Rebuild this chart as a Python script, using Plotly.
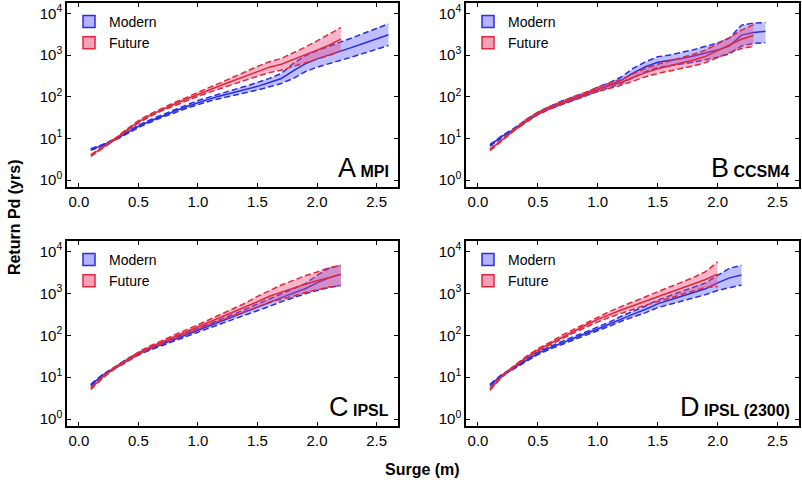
import plotly.graph_objects as go

# ---------------- data (return period, years) ----------------
# Panel A  MPI
a_mod_x = [0.1,0.2,0.3,0.4,0.5,0.6,0.7,0.8,0.9,1.0,1.1,1.2,1.3,1.4,1.5,1.6,1.7,1.8,1.9,2.0,2.1,2.2,2.3,2.4,2.5,2.6]
a_mod_mid = [5.4,6.9,9.3,13.5,19.5,26.3,34.7,44.7,57.5,72.4,89.1,107,126,148,178,219,275,417,617,813,1000,1230,1550,1950,2450,3090]
a_mod_lo = [5.2,6.6,8.9,12.9,18.2,24.5,32.4,40.8,52.5,64.5,79.4,93.2,107,123,145,174,209,275,398,513,617,741,913,1122,1378,1698]
a_mod_hi = [5.7,7.2,9.7,14.1,20.9,28.2,37.2,49.0,63.0,81.2,100,123,148,178,219,276,362,631,956,1289,1622,2042,2632,3389,4356,5624]

a_fut_x = [0.1,0.2,0.3,0.4,0.5,0.6,0.7,0.8,0.9,1.0,1.1,1.2,1.3,1.4,1.5,1.6,1.7,1.8,1.9,2.0,2.1,2.2]
a_fut_mid = [3.9,6.0,9.5,15.8,25.1,36.3,50.1,66.1,87.1,115,148,191,245,316,407,513,603,776,1000,1318,1738,2399]
a_fut_lo = [3.7,5.7,9.1,15.1,23.4,33.9,46.7,60.3,79.5,103,129,163,204,251,309,380,437,537,646,794,977,1259]
a_fut_hi = [4.1,6.3,9.9,16.5,26.9,38.9,53.7,72.4,95.5,129,170,224,294,398,536,692,832,1121,1549,2188,3090,4570]

# Panel B  CCSM4
b_mod_x = [0.1,0.2,0.3,0.4,0.5,0.6,0.7,0.8,0.9,1.0,1.1,1.2,1.3,1.4,1.5,1.6,1.7,1.8,1.9,2.0,2.1,2.2,2.3,2.4]
b_mod_mid = [6.8,11.2,16.6,26.3,39.8,55,72,91,115,151,191,251,380,525,676,741,832,955,1122,1318,1660,3020,3467,3715]
b_mod_lo = [6.5,10.7,15.8,24.5,37.2,51,66,83,105,135,166,209,295,398,501,550,603,676,776,891,1072,1660,1905,1995]
b_mod_hi = [7.1,11.7,17.4,28.2,42.7,59,79,100,126,170,219,302,490,692,912,1000,1148,1349,1622,1950,2570,5250,5888,6026]

b_fut_x = [0.1,0.2,0.3,0.4,0.5,0.6,0.7,0.8,0.9,1.0,1.1,1.2,1.3,1.4,1.5,1.6,1.7,1.8,1.9,2.0,2.1,2.2,2.3]
b_fut_mid = [5.4,9.3,15.8,26.3,39.8,55,72,93,117,151,186,224,295,380,468,550,646,759,933,1259,1738,2399,2951]
b_fut_lo = [5.1,8.9,15.1,24.5,37.2,51,66,85,107,135,162,190,240,302,363,417,479,550,661,871,1148,1445,1622]
b_fut_hi = [5.6,9.8,16.6,28.2,42.7,59,79,102,129,170,214,263,363,479,603,724,871,1047,1318,1820,2630,3981,5370]

# Panel C  IPSL
c_mod_x = [0.1,0.2,0.3,0.4,0.5,0.6,0.7,0.8,0.9,1.0,1.1,1.2,1.3,1.4,1.5,1.6,1.7,1.8,1.9,2.0,2.1,2.2]
c_mod_mid = [6.5,11.2,16.6,25.1,36.3,47.9,61.7,79.4,102,132,170,214,275,355,468,603,794,1023,1288,1778,2344,2884]
c_mod_lo = [6.2,10.7,15.8,23.4,33.9,44.7,57.5,72.4,93,120,151,191,240,302,389,490,631,794,977,1175,1380,1550]
c_mod_hi = [6.8,11.7,17.4,26.9,38.9,51.3,66.1,87.1,112,145,191,240,316,417,562,741,1000,1318,1698,2692,3981,4680]

c_fut_x = [0.1,0.2,0.3,0.4,0.5,0.6,0.7,0.8,0.9,1.0,1.1,1.2,1.3,1.4,1.5,1.6,1.7,1.8,1.9,2.0,2.1,2.2]
c_fut_mid = [5.4,10.0,16.6,25.1,37.2,52.5,69.2,91.2,120,158,209,275,355,468,631,851,1072,1318,1660,1995,2399,2818]
c_fut_lo = [5.1,9.5,15.8,23.4,34.7,49.0,63.1,83.2,107,141,182,234,295,372,468,617,724,851,1047,1230,1413,1549]
c_fut_hi = [5.6,10.5,17.4,26.9,39.8,56.2,75.9,100,135,178,240,324,427,589,851,1175,1585,2042,2630,3236,4074,4677]

# Panel D  IPSL (2300)
d_mod_x = [0.1,0.2,0.3,0.4,0.5,0.6,0.7,0.8,0.9,1.0,1.1,1.2,1.3,1.4,1.5,1.6,1.7,1.8,1.9,2.0,2.1,2.2]
d_mod_mid = [6.5,11.2,16.6,25.1,37.2,50.1,66.1,85.1,110,141,186,251,324,417,562,692,851,1047,1288,1778,2344,2754]
d_mod_lo = [6.2,10.7,15.8,23.4,34.7,46.8,60.3,77.6,100,126,166,219,275,347,457,550,661,794,933,1175,1380,1585]
d_mod_hi = [6.8,11.7,17.4,26.9,39.8,53.7,72.4,93.3,120,158,209,288,380,501,692,871,1096,1380,1778,2692,3981,4677]

d_fut_x = [0.1,0.2,0.3,0.4,0.5,0.6,0.7,0.8,0.9,1.0,1.1,1.2,1.3,1.4,1.5,1.6,1.7,1.8,1.9,2.0]
d_fut_mid = [5.1,10.5,17.8,29.5,44.7,63.1,91.2,126,174,240,316,407,513,661,832,1047,1318,1660,2138,2884]
d_fut_lo = [4.9,10.0,17.0,28.2,41.7,58.9,83.2,115,155,209,269,339,417,525,631,776,955,1148,1380,1445]
d_fut_hi = [5.4,11.0,18.6,30.9,47.9,67.6,100,138,195,275,372,490,631,832,1096,1413,1820,2399,3311,5623]

panel_letters = ["A", "B", "C", "D"]
panel_models = ["MPI", "CCSM4", "IPSL", "IPSL (2300)"]
series_names = ["Modern", "Future"]
x_ticks = [0.0, 0.5, 1.0, 1.5, 2.0, 2.5]
y_tickvals = [1, 10, 100, 1000, 10000]
y_ticktext = ["10<sup>0</sup>", "10<sup>1</sup>", "10<sup>2</sup>", "10<sup>3</sup>", "10<sup>4</sup>"]

panels = [
    ((a_mod_x, a_mod_mid, a_mod_lo, a_mod_hi), (a_fut_x, a_fut_mid, a_fut_lo, a_fut_hi)),
    ((b_mod_x, b_mod_mid, b_mod_lo, b_mod_hi), (b_fut_x, b_fut_mid, b_fut_lo, b_fut_hi)),
    ((c_mod_x, c_mod_mid, c_mod_lo, c_mod_hi), (c_fut_x, c_fut_mid, c_fut_lo, c_fut_hi)),
    ((d_mod_x, d_mod_mid, d_mod_lo, d_mod_hi), (d_fut_x, d_fut_mid, d_fut_lo, d_fut_hi)),
]

# ---------------- styling ----------------
W, H = 802, 482
line_cols = ["#2a2ee0", "#e0283c"]
fill_cols = ["rgba(95,95,255,0.40)", "rgba(240,70,120,0.40)"]
leg_fill = ["rgba(160,160,255,0.8)", "rgba(245,150,180,0.9)"]
FONT = "Liberation Sans Narrow, Arial Narrow, Liberation Sans, Arial, sans-serif"
FONT_B = "Liberation Sans, Arial, sans-serif"

# pixel boxes of the panels: (left, right, top, bottom)
boxes = [(67, 398, 2, 187), (466, 799, 2, 187), (67, 398, 241, 427), (466, 799, 241, 427)]

fig = go.Figure()
layout = dict(width=W, height=H, margin=dict(l=0, r=0, t=0, b=0),
              paper_bgcolor="white", plot_bgcolor="white", showlegend=True)

for i, (box, data) in enumerate(zip(boxes, panels)):
    l, r, t, b = box
    sfx = "" if i == 0 else str(i + 1)
    xa, ya = "x" + sfx, "y" + sfx
    leg = "legend" + sfx
    for s, (xs, mid, lo, hi) in enumerate(data):
        fig.add_trace(go.Scatter(x=xs, y=lo, mode="lines", xaxis=xa, yaxis=ya,
                                 line=dict(color=line_cols[s], width=1.5, dash="6px,3px"),
                                 showlegend=False, hoverinfo="skip"))
        fig.add_trace(go.Scatter(x=xs, y=hi, mode="lines", xaxis=xa, yaxis=ya,
                                 line=dict(color=line_cols[s], width=1.5, dash="6px,3px"),
                                 fill="tonexty", fillcolor=fill_cols[s],
                                 showlegend=False, hoverinfo="skip"))
        fig.add_trace(go.Scatter(x=xs, y=mid, mode="lines", xaxis=xa, yaxis=ya,
                                 line=dict(color=line_cols[s], width=1.5),
                                 showlegend=False))
    for s in range(2):
        fig.add_trace(go.Scatter(x=[None], y=[None], mode="markers", xaxis=xa, yaxis=ya,
                                 name=series_names[s], legend=leg,
                                 marker=dict(symbol="square", size=12, color=leg_fill[s],
                                             line=dict(color=line_cols[s], width=1.5))))
    axis_common = dict(showline=True, linecolor="black", linewidth=1.5, mirror="ticks",
                       ticks="inside", ticklen=4, tickwidth=1.2, tickcolor="black",
                       showgrid=False, zeroline=False,
                       tickfont=dict(family=FONT, size=15, color="black"))
    layout["xaxis" + sfx] = dict(axis_common, domain=[l / W, r / W], anchor=ya,
                                 range=[-0.1, 2.68], tickvals=x_ticks, tickformat=".1f")
    layout["yaxis" + sfx] = dict(axis_common, domain=[1 - b / H, 1 - t / H], anchor=xa,
                                 type="log", range=[-0.17, 4.25],
                                 tickvals=y_tickvals, ticktext=y_ticktext)
    layout[leg] = dict(x=(l + 2) / W, y=1 - (t + 3) / H, xanchor="left", yanchor="top",
                       bgcolor="rgba(0,0,0,0)", font=dict(family=FONT, size=14, color="black"),
                       itemsizing="trace", tracegroupgap=0, traceorder="normal")

annotations = []
for i, box in enumerate(boxes):
    l, r, t, b = box
    annotations.append(dict(
        xref="paper", yref="paper", x=(r - 7) / W, y=1 - (b - 2) / H,
        xanchor="right", yanchor="bottom", showarrow=False,
        text="<span style='font-size:27px'>" + panel_letters[i] + "</span> <b>" + panel_models[i] + "</b>",
        font=dict(family=FONT_B, size=16, color="black")))
annotations.append(dict(xref="paper", yref="paper", x=14 / W, y=1 - 217 / H,
                        xanchor="center", yanchor="middle", textangle=-90, showarrow=False,
                        text="<b>Return Pd (yrs)</b>",
                        font=dict(family=FONT_B, size=16, color="black")))
annotations.append(dict(xref="paper", yref="paper", x=423 / W, y=1 - 470 / H,
                        xanchor="center", yanchor="middle", showarrow=False,
                        text="<b>Surge (m)</b>",
                        font=dict(family=FONT_B, size=16, color="black")))
layout["annotations"] = annotations

fig.update_layout(**layout)
fig.write_html("out.html", config={"displayModeBar": False},
               post_script="document.body.style.margin='0px';")
